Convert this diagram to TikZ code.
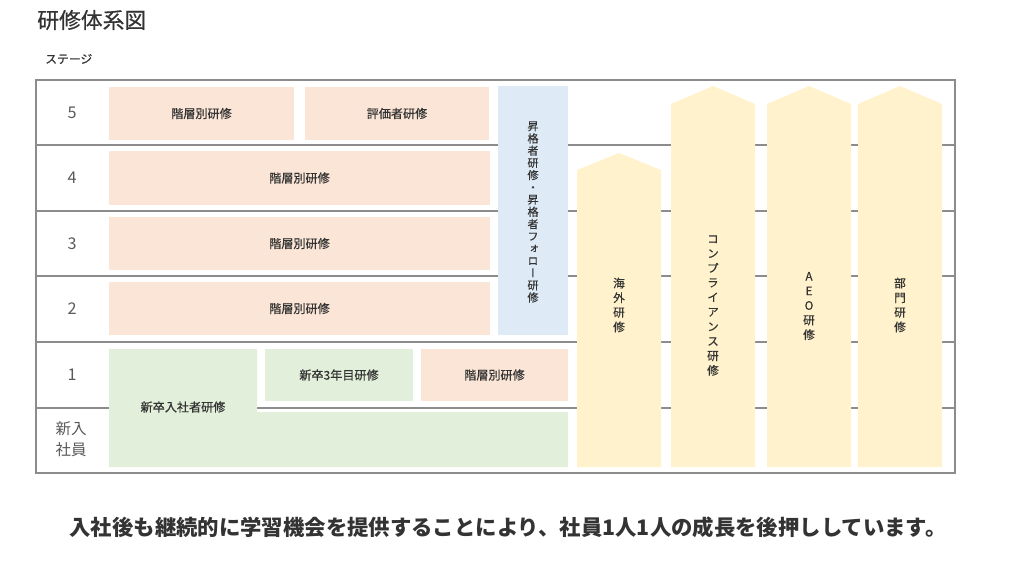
\documentclass[tikz,border=0pt]{standalone}
\usepackage{fontspec}
\setmainfont{Noto Sans CJK JP}
\newfontfamily\medfont[FakeBold=0.5]{Noto Sans CJK JP}
\newfontfamily\tatefont[FakeBold=0.35, RawFeature=+vert]{Noto Sans CJK JP}
\definecolor{pinkbox}{HTML}{FBE5D6}
\definecolor{bluebox}{HTML}{DEEBF7}
\definecolor{greenbox}{HTML}{E2EFDA}
\definecolor{yellowbox}{HTML}{FFF2CC}
\definecolor{framegray}{HTML}{8C8C8C}
\definecolor{inkgray}{HTML}{333333}

\begin{document}
\begin{tikzpicture}[x=0.025cm, y=-0.025cm,
		boxtext/.style={inner sep=0, text=inkgray, font=\medfont\fontsize{8.6}{10}\selectfont},
		tatetext/.style={inner sep=0, align=center, text=inkgray, font=\tatefont\fontsize{8.3}{10.4}\selectfont},
		stagetext/.style={inner sep=0, align=center, text=black!65, font=\fontsize{11.5}{15}\selectfont}]
			%%%%% START %%%%%
			\useasboundingbox (0,0) rectangle (1024,578);
			
			\node[anchor=west, inner sep=0, text=inkgray, font=\medfont\fontsize{15.5}{18}\selectfont] (title) at (37,20) {研修体系図};
			\node[anchor=west, inner sep=0, text=inkgray, font=\medfont\fontsize{8.4}{10}\selectfont] (stagelabel) at (45,59) {ステージ};
			
			\draw[framegray, line width=0.8pt] (36,80) rectangle (955,473);
			\foreach \y in {145,211,276,342,408}
				\draw[framegray, line width=0.8pt] (36,\y) -- (955,\y);
			
			\node[stagetext] (s5) at (72,112.5) {5};
			\node[stagetext] (s4) at (72,178) {4};
			\node[stagetext] (s3) at (72,243.5) {3};
			\node[stagetext] (s2) at (72,309) {2};
			\node[stagetext] (s1) at (72,375) {1};
			\node[stagetext, font=\fontsize{11}{15}\selectfont] (s0) at (71,439) {新入\\社員};
			
			\fill[pinkbox] (109,87) rectangle (294,140);
			\node[boxtext] (kaiso5) at (201.5,113.5) {階層別研修};
			\fill[pinkbox] (305,87) rectangle (489,140);
			\node[boxtext] (hyoka5) at (397,113.5) {評価者研修};
			
			\fill[pinkbox] (109,151) rectangle (490,205);
			\node[boxtext] (kaiso4) at (299.5,178) {階層別研修};
			\fill[pinkbox] (109,217) rectangle (490,270);
			\node[boxtext] (kaiso3) at (299.5,243.5) {階層別研修};
			\fill[pinkbox] (109,282) rectangle (490,335);
			\node[boxtext] (kaiso2) at (299.5,308.5) {階層別研修};
			
			\fill[bluebox] (498,86) rectangle (568,335);
			\node[tatetext, font=\tatefont\fontsize{7.9}{8.7}\selectfont] (shokaku) at (533,212) {昇\\格\\者\\研\\修\\・\\昇\\格\\者\\フ\\ォ\\ロ\\ー\\研\\修};
			
			\fill[greenbox] (109,349) -- (257,349) -- (257,412) -- (568,412) -- (568,467) -- (109,467) -- cycle;
			\node[boxtext] (shinsotsu) at (183,407) {新卒入社者研修};
			\fill[greenbox] (265,349) rectangle (413,401);
			\node[boxtext] (sannen) at (339,375) {新卒3年目研修};
			\fill[pinkbox] (421,349) rectangle (568,401);
			\node[boxtext] (kaiso1) at (494.5,375) {階層別研修};
			
			\fill[yellowbox] (577,467) -- (577,170) -- (619,153) -- (661,170) -- (661,467) -- cycle;
			\node[tatetext] (kaigai) at (619,305) {海\\外\\研\\修};
			\fill[yellowbox] (671,467) -- (671,104) -- (713,86) -- (755,104) -- (755,467) -- cycle;
			\node[tatetext] (compliance) at (713,305.5) {コ\\ン\\プ\\ラ\\イ\\ア\\ン\\ス\\研\\修};
			\fill[yellowbox] (767,467) -- (767,104) -- (809,86) -- (851,104) -- (851,467) -- cycle;
			\node[tatetext] (aeo) at (809,306) {A\\E\\O\\研\\修};
			\fill[yellowbox] (858,467) -- (858,104) -- (900,86) -- (942,104) -- (942,467) -- cycle;
			\node[tatetext] (bumon) at (900,305) {部\\門\\研\\修};
			
			\node[inner sep=0, text=inkgray, font=\bfseries\fontsize{15.2}{18}\selectfont] (summary) at (508,527) {入社後も継続的に学習機会を提供することにより、社員1人1人の成長を後押ししています。};
			%%%%% END %%%%%
\end{tikzpicture}
\end{document}
